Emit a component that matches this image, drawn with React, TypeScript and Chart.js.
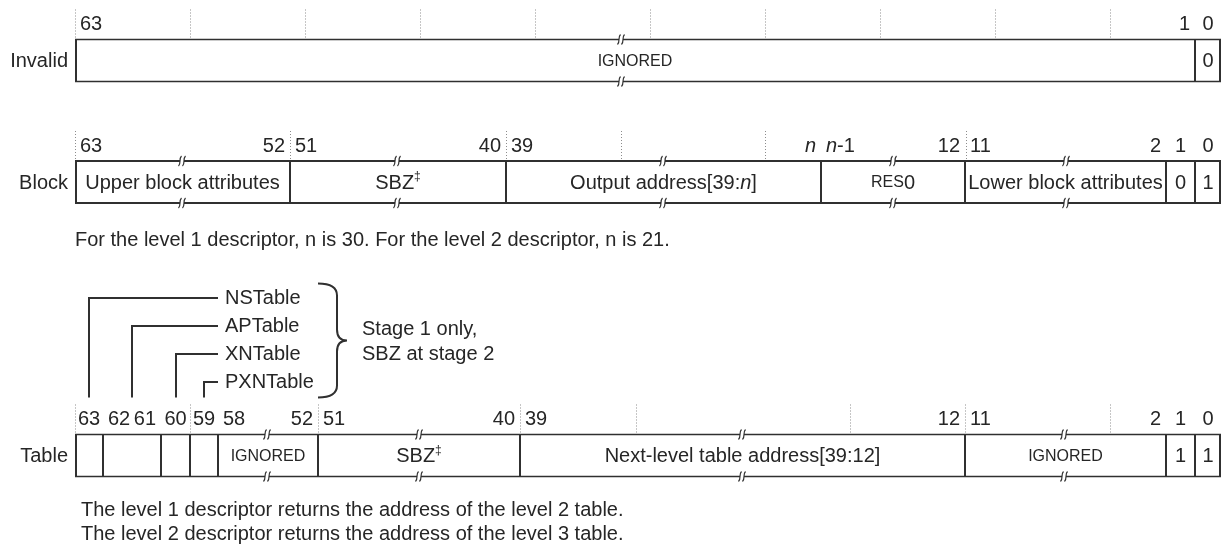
import React, { useEffect, useRef } from "react";
import { Chart, registerables } from "chart.js";

Chart.register(...registerables);

// ---------- data ----------
const rowNames = ["Invalid", "Block", "Table"];
const rowCenters = [60.5, 182, 455.5];

const invalidEdges = [0, 1120, 1146];
const invalidFields = ["~IGNORED~", "0"];
const invalidBits = [["63", "1"], ["0"]];
const invalidGrid = [0, 115, 230, 345, 460, 575, 690, 805, 920, 1035];
const invalidBreaks = [546];

const blockEdges = [0, 215, 431, 746, 890, 1091, 1120, 1146];
const blockFields = [
  "Upper block attributes",
  "SBZ^‡^",
  "Output address[39:*n*]",
  "~RES~0",
  "Lower block attributes",
  "0",
  "1",
];
const blockBits = [["63", "52"], ["51", "40"], ["39", "*n*"], ["*n*-1", "12"], ["11", "2"], ["1"], ["0"]];
const blockGrid = [0, 215, 431, 546, 690, 891];
const blockBreaks = [107, 322, 588, 818, 991];

const tableEdges = [0, 28, 86, 115, 143, 243, 445, 890, 1091, 1120, 1146];
const tableFields = ["", "", "", "", "~IGNORED~", "SBZ^‡^", "Next-level table address[39:12]", "~IGNORED~", "1", "1"];
const tableBits = [["63"], ["62", "61"], ["60"], ["59"], ["58", "52"], ["51", "40"], ["39", "12"], ["11", "2"], ["1"], ["0"]];
const tableGrid = [0, 115, 243, 445, 561, 775, 890, 1035];
const tableBreaks = [192, 344, 667, 989];

const blockNotes = ["For the level 1 descriptor, n is 30. For the level 2 descriptor, n is 21."];
const tableNotes = [
  "The level 1 descriptor returns the address of the level 2 table.",
  "The level 2 descriptor returns the address of the level 3 table.",
];

const pointerNames = ["NSTable", "APTable", "XNTable", "PXNTable"];
const pointerFields = [0, 1, 2, 3];
const braceText = ["Stage 1 only,", "SBZ at stage 2"];

const rows = [
  { edges: invalidEdges, fields: invalidFields, bits: invalidBits, grid: invalidGrid, breaks: invalidBreaks },
  { edges: blockEdges, fields: blockFields, bits: blockBits, grid: blockGrid, breaks: blockBreaks },
  { edges: tableEdges, fields: tableFields, bits: tableBits, grid: tableGrid, breaks: tableBreaks },
];

// ---------- styling ----------
const FONT = '"Liberation Sans", Arial, Helvetica, sans-serif';
const INK = "#262626";
const LINE = "#303030";

function segs(text: string) {
  return text
    .split(/(\*[^*]+\*|~[^~]+~|\^[^^]+\^)/)
    .filter((s) => s.length)
    .map((s) => {
      if (s[0] === "*") return { t: s.slice(1, -1), kind: "i" };
      if (s[0] === "~") return { t: s.slice(1, -1), kind: "s" };
      if (s[0] === "^") return { t: s.slice(1, -1), kind: "u" };
      return { t: s, kind: "n" };
    });
}
function fontFor(kind: string, size: number) {
  if (kind === "i") return `italic ${size}px ${FONT}`;
  if (kind === "s") return `${Math.round(size * 0.8)}px ${FONT}`;
  if (kind === "u") return `${Math.round(size * 0.6)}px ${FONT}`;
  return `${size}px ${FONT}`;
}
function drawRich(ctx: any, text: string, x: number, y: number, align: string, size = 20) {
  const parts = segs(text);
  let w = 0;
  const widths = parts.map((p) => {
    ctx.font = fontFor(p.kind, size);
    const m = ctx.measureText(p.t).width;
    w += m;
    return m;
  });
  let cx = align === "center" ? x - w / 2 : align === "right" ? x - w : x;
  ctx.textAlign = "left";
  ctx.textBaseline = "middle";
  ctx.fillStyle = INK;
  parts.forEach((p, i) => {
    ctx.font = fontFor(p.kind, size);
    ctx.fillText(p.t, cx, p.kind === "u" ? y - 6 : y);
    cx += widths[i];
  });
}
function drawBreak(ctx: any, x: number, y: number) {
  ctx.save();
  ctx.fillStyle = "#fff";
  ctx.fillRect(x - 2, y - 1.5, 4, 3);
  ctx.strokeStyle = LINE;
  ctx.lineWidth = 1.2;
  for (const dx of [-2, 2]) {
    ctx.beginPath();
    ctx.moveTo(x + dx - 1.5, y + 5);
    ctx.bezierCurveTo(x + dx + 1.5, y + 2, x + dx - 1.5, y - 2, x + dx + 1.5, y - 5);
    ctx.stroke();
  }
  ctx.restore();
}
function rowBox(chart: any, ri: number) {
  const el = chart.getDatasetMeta(ri).data[0];
  const p = el.getProps(["y", "height"], true);
  return { top: p.y - p.height / 2, bottom: p.y + p.height / 2, mid: p.y };
}
function fieldBox(chart: any, ri: number, i: number) {
  const el = chart.getDatasetMeta(ri).data[i];
  const p = el.getProps(["x", "base"], true);
  return { left: Math.min(p.x, p.base), right: Math.max(p.x, p.base) };
}

const diagramPlugin = {
  id: "diagram",
  beforeDatasetsDraw(chart: any) {
    const ctx = chart.ctx;
    const xs = chart.scales.x;
    ctx.save();
    ctx.strokeStyle = "#8c8c8c";
    ctx.lineWidth = 1;
    ctx.setLineDash([1, 2]);
    rows.forEach((r, ri) => {
      const { top } = rowBox(chart, ri);
      r.grid.forEach((u) => {
        const px = Math.round(xs.getPixelForValue(u)) + 0.5;
        ctx.beginPath();
        ctx.moveTo(px, top - 29);
        ctx.lineTo(px, top);
        ctx.stroke();
      });
    });
    ctx.restore();
  },
  afterDatasetsDraw(chart: any) {
    const ctx = chart.ctx;
    const xs = chart.scales.x;
    ctx.save();
    rows.forEach((r, ri) => {
      const { top, bottom, mid } = rowBox(chart, ri);
      drawRich(ctx, rowNames[ri], 68, mid + 1, "right");
      r.fields.forEach((f, i) => {
        const { left, right } = fieldBox(chart, ri, i);
        if (f) drawRich(ctx, f, (left + right) / 2, mid + 1, "center");
        const b = r.bits[i];
        if (b.length === 1) drawRich(ctx, b[0], (left + right) / 2, top - 14, "center");
        else {
          drawRich(ctx, b[0], left + 5, top - 14, "left");
          drawRich(ctx, b[1], right - 5, top - 14, "right");
        }
      });
      r.breaks.forEach((u) => {
        const px = xs.getPixelForValue(u);
        drawBreak(ctx, px, top + 1);
        drawBreak(ctx, px, bottom - 1);
      });
    });

    const bBox = rowBox(chart, 1);
    blockNotes.forEach((t, i) => drawRich(ctx, t, xs.getPixelForValue(0), bBox.bottom + 36 + i * 24, "left"));
    const tBox = rowBox(chart, 2);
    tableNotes.forEach((t, i) => drawRich(ctx, t, xs.getPixelForValue(6), tBox.bottom + 33 + i * 24, "left"));

    const lineEnd = xs.getPixelForValue(tableEdges[4]);
    const pBottom = tBox.top - 36;
    ctx.strokeStyle = LINE;
    ctx.lineWidth = 2;
    pointerNames.forEach((name, i) => {
      const fb = fieldBox(chart, 2, pointerFields[i]);
      const cx = Math.round((fb.left + fb.right) / 2);
      const ly = Math.round(tBox.top - 136 + i * 28.3);
      ctx.beginPath();
      ctx.moveTo(cx, pBottom);
      ctx.lineTo(cx, ly);
      ctx.lineTo(lineEnd, ly);
      ctx.stroke();
      drawRich(ctx, name, lineEnd + 7, ly, "left");
    });

    const bx = xs.getPixelForValue(tableEdges[5]);
    const bTop = tBox.top - 150;
    const bBot = pBottom;
    const bMid = tBox.top - 93;
    const vx = bx + 19;
    const tip = bx + 29;
    ctx.lineWidth = 2;
    ctx.beginPath();
    ctx.moveTo(bx, bTop);
    ctx.quadraticCurveTo(vx, bTop, vx, bTop + 12);
    ctx.lineTo(vx, bMid - 11);
    ctx.quadraticCurveTo(vx, bMid, tip, bMid);
    ctx.quadraticCurveTo(vx, bMid, vx, bMid + 11);
    ctx.lineTo(vx, bBot - 12);
    ctx.quadraticCurveTo(vx, bBot, bx, bBot);
    ctx.stroke();
    braceText.forEach((t, i) => drawRich(ctx, t, bx + 44, tBox.top - 104 + i * 25, "left"));
    ctx.restore();
  },
};

export default function App() {
  const ref = useRef<HTMLCanvasElement>(null);
  useEffect(() => {
    const canvas = ref.current;
    if (!canvas) return;
    const datasets = rows.map((r, ri) => {
      const n = r.edges.length - 1;
      return {
        label: rowNames[ri],
        data: r.edges.slice(0, -1).map((s, i) => ({ x: [s, r.edges[i + 1]], y: rowCenters[ri] })),
        backgroundColor: "#ffffff",
        borderColor: LINE,
        borderWidth: (c: any) => ({
          top: 2,
          bottom: 2,
          left: c.dataIndex === 0 ? 2 : 1,
          right: c.dataIndex === n - 1 ? 2 : 1,
        }),
        borderSkipped: false,
        barThickness: 44,
        grouped: false,
        inflateAmount: 0,
      };
    });
    const chart = new Chart(canvas, {
      type: "bar",
      data: { datasets } as any,
      options: {
        indexAxis: "y",
        animation: false,
        responsive: false,
        maintainAspectRatio: false,
        layout: { padding: { left: 75, right: 1, top: 0, bottom: 0 } },
        scales: {
          x: { type: "linear", min: 0, max: 1146, display: false, offset: false },
          y: { type: "linear", min: 0, max: 546, reverse: true, display: false, offset: false, grid: { offset: false } },
        },
        plugins: { legend: { display: false }, tooltip: { enabled: false } },
      } as any,
      plugins: [diagramPlugin],
    });
    return () => chart.destroy();
  }, []);
  return (
    <div style={{ position: "absolute", left: 0, top: 0, width: 1222, height: 546, background: "#fff" }}>
      <canvas ref={ref} width={1222} height={546} style={{ width: 1222, height: 546, display: "block" }} />
    </div>
  );
}
